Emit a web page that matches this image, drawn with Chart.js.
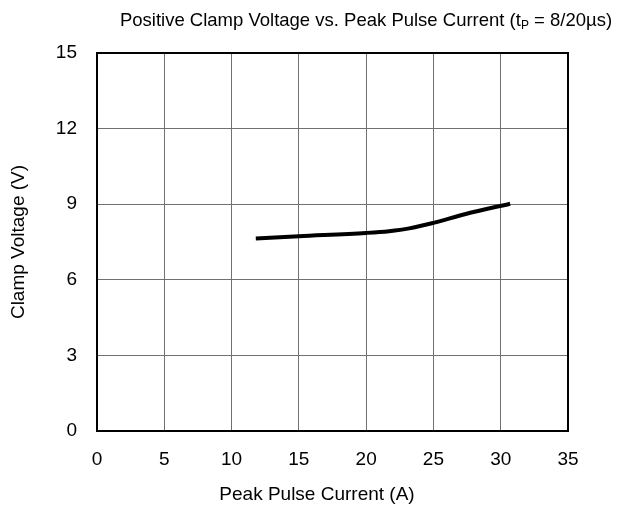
<!DOCTYPE html>
<html>
<head>
<meta charset="utf-8">
<script src="https://cdn.jsdelivr.net/npm/chart.js@4/dist/chart.umd.min.js"></script>
<style>
  body { margin: 0; background: #fff; }
  canvas { display: block; }
</style>
</head>
<body>
<canvas id="clampChart" width="618" height="509"></canvas>
<script>
const currentA = [11.8, 15, 20, 21.7, 23.2, 25, 27.4, 30.7];
const clampV = [7.64, 7.73, 7.86, 7.93, 8.04, 8.26, 8.61, 9.02];
const xTicks = [0, 5, 10, 15, 20, 25, 30, 35];
const yTicks = [0, 3, 6, 9, 12, 15];

const FONT = 'Liberation Sans, Arial, sans-serif';

// title with the small subscript P, x axis title, and the heavy frame round the plot
const framePlugin = {
  id: 'frame',
  afterDraw(chart) {
    const ctx = chart.ctx;
    const a = chart.chartArea;
    ctx.save();
    ctx.strokeStyle = '#000';
    ctx.lineWidth = 2;
    ctx.strokeRect(a.left, a.top, a.right - a.left, a.bottom - a.top);

    const parts = [
      { t: 'Positive Clamp Voltage vs. Peak Pulse Current (t', size: 18.5, dy: 0 },
      { t: 'P', size: 12, dy: 3 },
      { t: ' = 8/20\u00b5s)', size: 18.5, dy: 0 }
    ];
    let total = 0;
    parts.forEach(p => {
      ctx.font = p.size + 'px ' + FONT;
      p.w = ctx.measureText(p.t).width;
      total += p.w;
    });
    let x = 366 - total / 2;
    ctx.fillStyle = '#000';
    ctx.textBaseline = 'alphabetic';
    parts.forEach(p => {
      ctx.font = p.size + 'px ' + FONT;
      ctx.fillText(p.t, x, 26 + p.dy);
      x += p.w;
    });

    ctx.font = '19px ' + FONT;
    ctx.textAlign = 'center';
    ctx.textBaseline = 'middle';
    ctx.fillText('Peak Pulse Current (A)', 317, 495);
    ctx.restore();
  }
};

const ctx = document.getElementById('clampChart').getContext('2d');
const chart = new Chart(ctx, {
  type: 'line',
  data: {
    datasets: [{
      data: currentA.map((x, i) => ({ x: x, y: clampV[i] })),
      borderColor: '#000',
      borderWidth: 4,
      pointRadius: 0,
      cubicInterpolationMode: 'monotone',
      fill: false
    }]
  },
  options: {
    responsive: false,
    animation: false,
    layout: { padding: { left: 0, right: 50, top: 53, bottom: 0 } },
    plugins: { legend: { display: false }, tooltip: { enabled: false } },
    scales: {
      x: {
        type: 'linear',
        min: 0, max: 35,
        afterBuildTicks: s => { s.ticks = xTicks.map(v => ({ value: v })); },
        afterFit: s => { s.height = 78; },
        ticks: { color: '#000', padding: 17, font: { family: FONT, size: 19 } },
        grid: { color: '#707070', lineWidth: 1, drawTicks: false },
        border: { display: false }
      },
      y: {
        min: 0, max: 15,
        afterBuildTicks: s => { s.ticks = yTicks.map(v => ({ value: v })); },
        afterFit: s => { s.width = 97; },
        ticks: { color: '#000', padding: 20, font: { family: FONT, size: 19 } },
        grid: { color: '#707070', lineWidth: 1, drawTicks: false },
        border: { display: false },
        title: {
          display: true, text: 'Clamp Voltage (V)', color: '#000',
          font: { family: FONT, size: 19 }, padding: { top: 7, bottom: 0 }
        }
      }
    }
  },
  plugins: [framePlugin]
});
</script>
</body>
</html>
